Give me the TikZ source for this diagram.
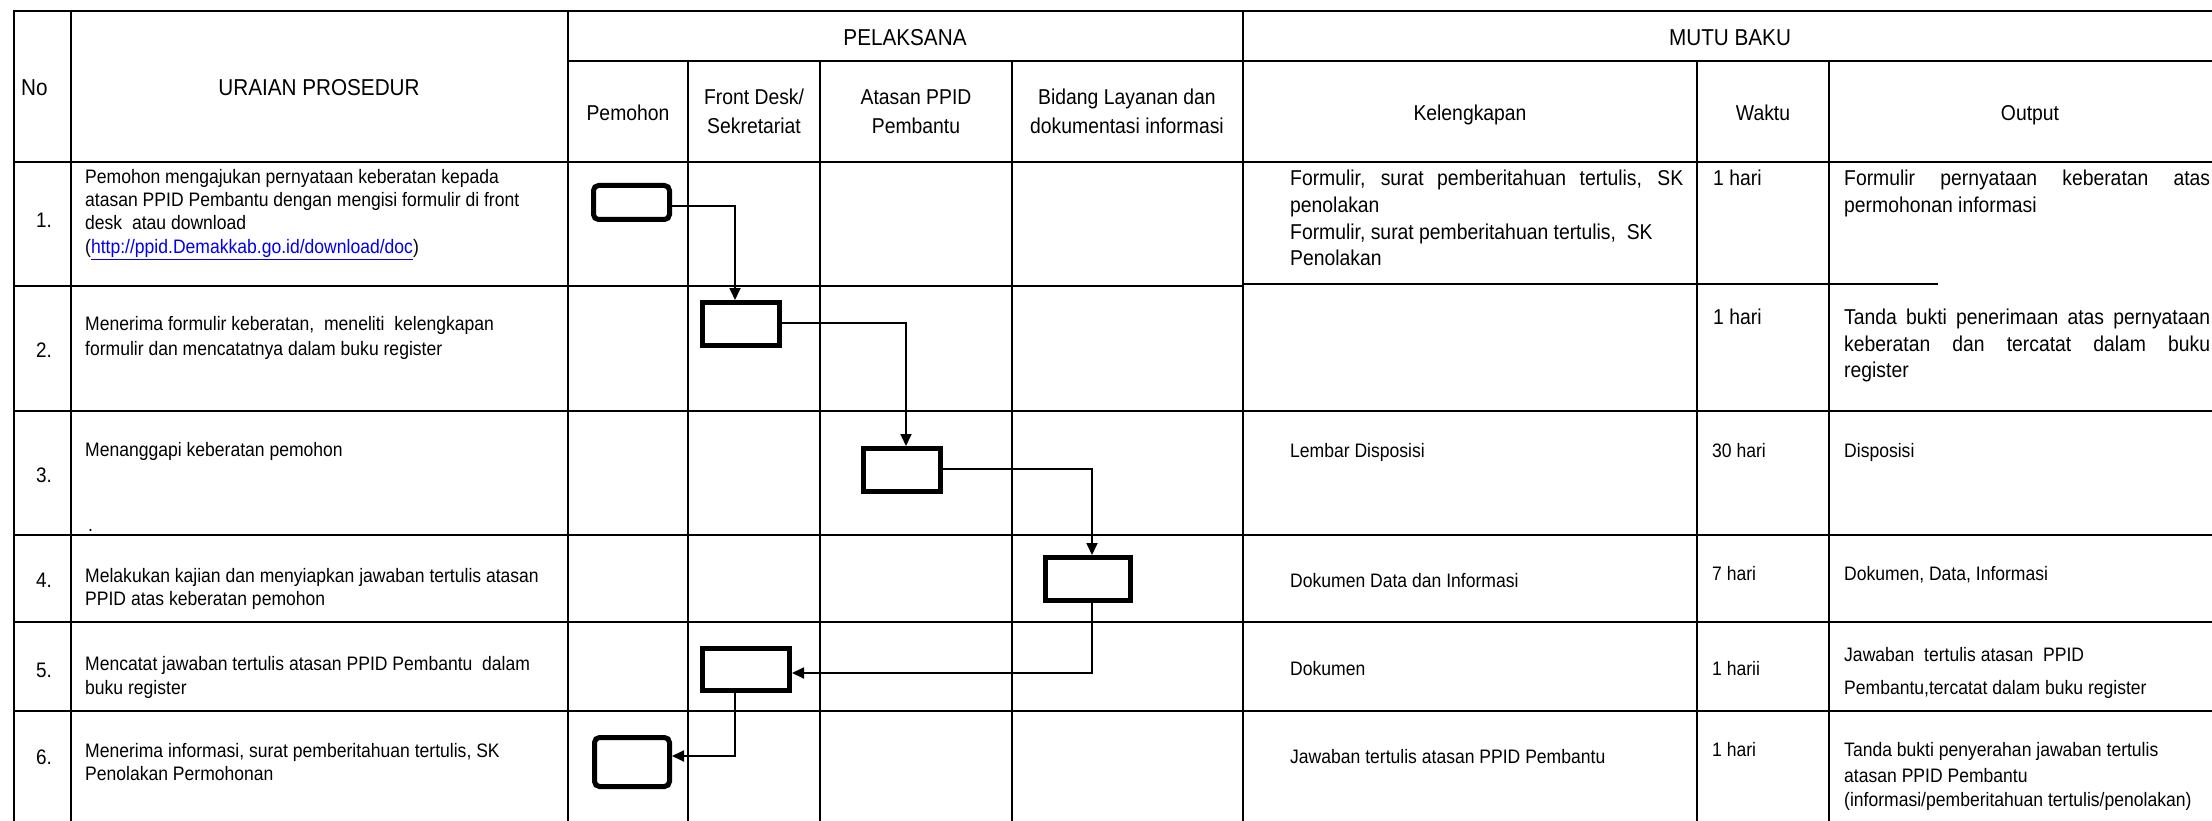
\documentclass[tikz,border=0pt]{standalone}
\usepackage{fontspec}
\setmainfont{Liberation Sans}[FakeStretch=0.9]
\usetikzlibrary{arrows.meta}
\newcommand\fz[1]{\fontsize{#1}{#1}\selectfont}
\definecolor{linkblue}{RGB}{0,0,238}
\tikzset{
  grid/.style={line width=2.4pt, line cap=rect},
  hd/.style={inner sep=0pt, anchor=base, font=\fz{23}},
  sh/.style={inner sep=0pt, anchor=base, font=\fz{21.5}},
  tl/.style={inner sep=0pt, anchor=base west, font=\fz{19.5}},
  tr/.style={inner sep=0pt, anchor=base west, font=\fz{21.5}},
  num/.style={inner sep=0pt, anchor=base west, font=\fz{21}},
  pbox/.style={draw, line width=5pt, rounded corners=5pt, inner sep=0pt},
  sbox/.style={draw, line width=5pt, inner sep=0pt},
  flow/.style={line width=1.8pt, -{Triangle[length=12pt,width=11pt]}},
}
\begin{document}
\begin{tikzpicture}[x=1pt,y=-1pt]
\fill[white] (0,0) rectangle (2212,821);
\useasboundingbox (0,0) rectangle (2212,821);
% ---- table grid ----
\draw[grid] (14,11) -- (2214,11);
\draw[grid] (568,61) -- (2214,61);
\draw[grid] (14,162) -- (2214,162);
\draw[grid] (14,286) -- (1243,286);
\draw[grid] (1243,284) -- (1937,284);
\draw[grid] (14,411) -- (2214,411);
\draw[grid] (14,535) -- (2214,535);
\draw[grid] (14,622) -- (2214,622);
\draw[grid] (14,711) -- (2214,711);
\draw[grid] (14,11) -- (14,823);
\draw[grid] (71,11) -- (71,823);
\draw[grid] (568,11) -- (568,823);
\draw[grid] (688,61) -- (688,823);
\draw[grid] (820,61) -- (820,823);
\draw[grid] (1012,61) -- (1012,823);
\draw[grid] (1243,11) -- (1243,823);
\draw[grid] (1697,61) -- (1697,823);
\draw[grid] (1829,61) -- (1829,823);
% ---- headers ----
\node[hd, anchor=base west] (hno) at (21,96) {No};
\node[hd] (hur) at (319,96) {URAIAN PROSEDUR};
\node[hd] (hpel) at (905,46) {PELAKSANA};
\node[hd] (hmut) at (1730,46) {MUTU BAKU};
\node[sh] (hpem) at (628,121) {Pemohon};
\node[sh] (hfd1) at (754,105) {Front Desk/};
\node[sh] (hfd2) at (754,134) {Sekretariat};
\node[sh] (hat1) at (916,105) {Atasan PPID};
\node[sh] (hat2) at (916,134) {Pembantu};
\node[sh] (hbd1) at (1127,105) {Bidang Layanan dan};
\node[sh] (hbd2) at (1127,134) {dokumentasi informasi};
\node[sh] (hkel) at (1470,121) {Kelengkapan};
\node[sh] (hwak) at (1763,121) {Waktu};
\node[sh] (hout) at (2030,121) {Output};
% ---- numbers ----
\node[num] (n1) at (36,227.5) {1.};
\node[num] (n2) at (36,357.5) {2.};
\node[num] (n3) at (36,482.5) {3.};
\node[num] (n4) at (36,587.5) {4.};
\node[num] (n5) at (36,677.5) {5.};
\node[num] (n6) at (36,764.5) {6.};
% ---- uraian prosedur ----
\node[tl] (u1a) at (85,184) {Pemohon mengajukan pernyataan keberatan kepada};
\node[tl] (u1b) at (85,207) {atasan PPID Pembantu dengan mengisi formulir di front};
\node[tl] (u1c) at (85,230) {desk\ \ atau download};
\node[tl] (u1d) at (85,254) {(\textcolor{linkblue}{\underline{http://ppid.Demakkab.go.id/download/doc}})};
\node[tl] (u2a) at (85,330) {Menerima formulir keberatan,\ \ meneliti\ \ kelengkapan};
\node[tl] (u2b) at (85,355) {formulir dan mencatatnya dalam buku register};
\node[tl] (u3a) at (85,456) {Menanggapi keberatan pemohon};
\node[tl] (u3b) at (88,531) {.};
\node[tl] (u4a) at (85,582) {Melakukan kajian dan menyiapkan jawaban tertulis atasan};
\node[tl] (u4b) at (85,605) {PPID atas keberatan pemohon};
\node[tl] (u5a) at (85,670) {Mencatat jawaban tertulis atasan PPID Pembantu\ \ dalam};
\node[tl] (u5b) at (85,694) {buku register};
\node[tl] (u6a) at (85,757) {Menerima informasi, surat pemberitahuan tertulis, SK};
\node[tl] (u6b) at (85,780) {Penolakan Permohonan};
% ---- kelengkapan ----
\node[tr] (k1a) at (1290,185.5) {\makebox[393pt][s]{Formulir, surat pemberitahuan tertulis, SK}};
\node[tr] (k1b) at (1290,212.5) {penolakan};
\node[tr] (k1c) at (1290,239.5) {Formulir, surat pemberitahuan tertulis,\ \ SK};
\node[tr] (k1d) at (1290,265.5) {Penolakan};
\node[tl] (k3) at (1290,457) {Lembar Disposisi};
\node[tl] (k4) at (1290,587) {Dokumen Data dan Informasi};
\node[tl] (k5) at (1290,675) {Dokumen};
\node[tl] (k6) at (1290,763) {Jawaban tertulis atasan PPID Pembantu};
% ---- waktu ----
\node[tr] (w1) at (1713,185.5) {1 hari};
\node[tr] (w2) at (1713,324.5) {1 hari};
\node[tl] (w3) at (1712,457) {30 hari};
\node[tl] (w4) at (1712,580) {7 hari};
\node[tl] (w5) at (1712,675) {1 harii};
\node[tl] (w6) at (1712,756) {1 hari};
% ---- output ----
\node[tr] (o1a) at (1844,185.5) {\makebox[366pt][s]{Formulir pernyataan keberatan atas}};
\node[tr] (o1b) at (1844,212.5) {permohonan informasi};
\node[tr] (o2a) at (1844,324.5) {\makebox[366pt][s]{Tanda bukti penerimaan atas pernyataan}};
\node[tr] (o2b) at (1844,351) {\makebox[366pt][s]{keberatan dan tercatat dalam buku}};
\node[tr] (o2c) at (1844,377.5) {register};
\node[tl] (o3) at (1844,457) {Disposisi};
\node[tl] (o4) at (1844,580) {Dokumen, Data, Informasi};
\node[tl] (o5a) at (1844,661) {Jawaban\ \ tertulis atasan\ \ PPID};
\node[tl] (o5b) at (1844,694) {Pembantu,tercatat dalam buku register};
\node[tl] (o6a) at (1844,756) {Tanda bukti penyerahan jawaban tertulis};
\node[tl] (o6b) at (1844,782) {atasan PPID Pembantu};
\node[tl] (o6c) at (1844,806) {(informasi/pemberitahuan tertulis/penolakan)};
% ---- flow boxes ----
\node[pbox, minimum width=76pt, minimum height=34pt] (b1) at (631.5,202.5) {};
\node[sbox, minimum width=77pt, minimum height=43pt] (b2) at (741,324) {};
\node[sbox, minimum width=77pt, minimum height=43pt] (b3) at (902,470) {};
\node[sbox, minimum width=85pt, minimum height=43pt] (b4) at (1088,579) {};
\node[sbox, minimum width=87pt, minimum height=42pt] (b5) at (746,669.5) {};
\node[pbox, minimum width=75pt, minimum height=49pt] (b6) at (632,762) {};
% ---- connectors ----
\draw[flow] ([yshift=-3.5pt]b1.east) -| ([xshift=-6pt]b2.north);
\draw[flow] ([yshift=1pt]b2.east) -| ([xshift=4pt]b3.north);
\draw[flow] ([yshift=1pt]b3.east) -| ([xshift=4pt]b4.north);
\draw[flow] ([xshift=4pt]b4.south) |- ([yshift=-3.5pt]b5.east);
\draw[flow] ([xshift=-11pt]b5.south) |- ([yshift=6pt]b6.east);
\end{tikzpicture}
\end{document}
